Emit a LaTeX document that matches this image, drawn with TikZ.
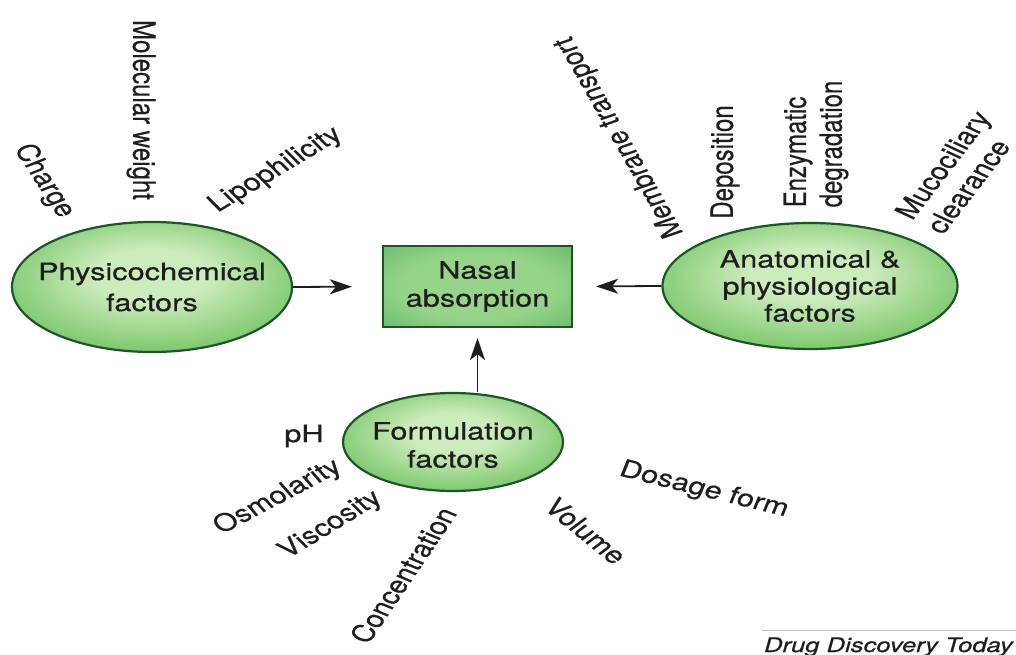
\documentclass[tikz,border=0pt]{standalone}
\usepackage{fontspec}
\setmainfont[FakeBold=0.4]{TeX Gyre Heros}
\usetikzlibrary{arrows.meta,shapes.geometric}
\definecolor{txt}{RGB}{30,30,30}
\definecolor{eLight}{RGB}{205,236,188}
\definecolor{eMid}{RGB}{115,195,100}
\definecolor{eEdge}{RGB}{50,155,58}
\definecolor{eBorder}{RGB}{30,85,40}
\definecolor{bLight}{RGB}{150,212,138}
\definecolor{bEdge}{RGB}{68,168,78}
\definecolor{rule}{RGB}{190,190,190}
\pgfdeclareradialshading{ellshade}{\pgfpoint{0bp}{6bp}}{color(0bp)=(eLight); color(10bp)=(eLight); color(30bp)=(eMid); color(50bp)=(eEdge)}
\pgfdeclareradialshading{boxshade}{\pgfpoint{0bp}{0bp}}{color(0bp)=(bLight); color(20bp)=(bLight); color(50bp)=(bEdge)}
\begin{document}
\begin{tikzpicture}[x=1pt, y=-1pt,
  font=\fontsize{24}{28}\selectfont,
  lbl/.style={inner sep=0pt, xscale=1.28, text=txt},
  ell/.style={ellipse, draw=eBorder, line width=2.2pt, shade, shading=ellshade, inner sep=0pt},
  ntext/.style={lbl, align=center},
  boxnode/.style={rectangle, draw=eBorder, line width=2.2pt, shade, shading=boxshade, inner sep=0pt},
  arr/.style={-{Stealth[length=22pt,width=15pt,inset=6pt]}, line width=1.8pt, draw=txt}]
\fill[white] (0,0) rectangle (1016,655);
\useasboundingbox (0,0) rectangle (1016,655);

% main shapes
\node[boxnode, minimum width=189pt, minimum height=81pt] (box) at (477.5,286.5) {};
\node[ell, minimum width=280pt, minimum height=130pt] (phys) at (152,287) {};
\node[ell, minimum width=295pt, minimum height=126pt] (anat) at (810,286) {};
\node[ell, minimum width=220pt, minimum height=98pt] (form) at (453,442) {};

% texts inside
\node[ntext] (box-t) at (box) {Nasal\\absorption};
\node[ntext, font=\fontsize{24}{31}\selectfont] (phys-t) at (phys) {Physicochemical\\factors};
\node[ntext, font=\fontsize{24}{27}\selectfont] (anat-t) at (anat) {Anatomical \&\\physiological\\factors};
\node[ntext] (form-t) at ([yshift=-3pt]form.center) {Formulation\\factors};

% connectors
\draw[arr, shorten >=30pt] (phys.east) -- (box.west);
\draw[arr, shorten >=23pt] (anat.west) -- (box.east);
\draw[arr, shorten >=10pt] (box.south |- form.north) -- (box.south);

% physicochemical labels
\node[lbl, rotate=-63] (charge) at (44,181) {Charge};
\node[lbl, rotate=-90] (mw) at (141,110) {Molecular weight};
\node[lbl, rotate=37.5] (lipo) at (276,170) {Lipophilicity};

% anatomical labels
\node[lbl, rotate=114] (mt) at (620,137) {Membrane transport};
\node[lbl, rotate=90] (dep) at (725,162) {Deposition};
\node[lbl, rotate=90, align=left] (enz) at (816,144) {Enzymatic\\degradation};
\node[lbl, rotate=59, align=left] (muco) at (958,172) {Mucociliary\\clearance};

% formulation labels
\node[lbl] (ph) at (304,436) {pH};
\node[lbl, rotate=34] (osm) at (278,497) {Osmolarity};
\node[lbl, rotate=38] (visc) at (331,525) {Viscosity};
\node[lbl, rotate=62] (conc) at (403,575) {Concentration};
\node[lbl, rotate=-46] (vol) at (586,531) {Volume};
\node[lbl, rotate=-17.5] (dos) at (704,490) {Dosage form};

% credit
\coordinate (ruleL) at (762,630);
\coordinate (ruleR) at (1016,630);
\draw[rule, line width=1pt] (ruleL) -- (ruleR);
\node[lbl, anchor=base east, font=\itshape\fontsize{20}{24}\selectfont] (ddt) at (1013,652) {Drug Discovery Today};
\end{tikzpicture}
\end{document}
